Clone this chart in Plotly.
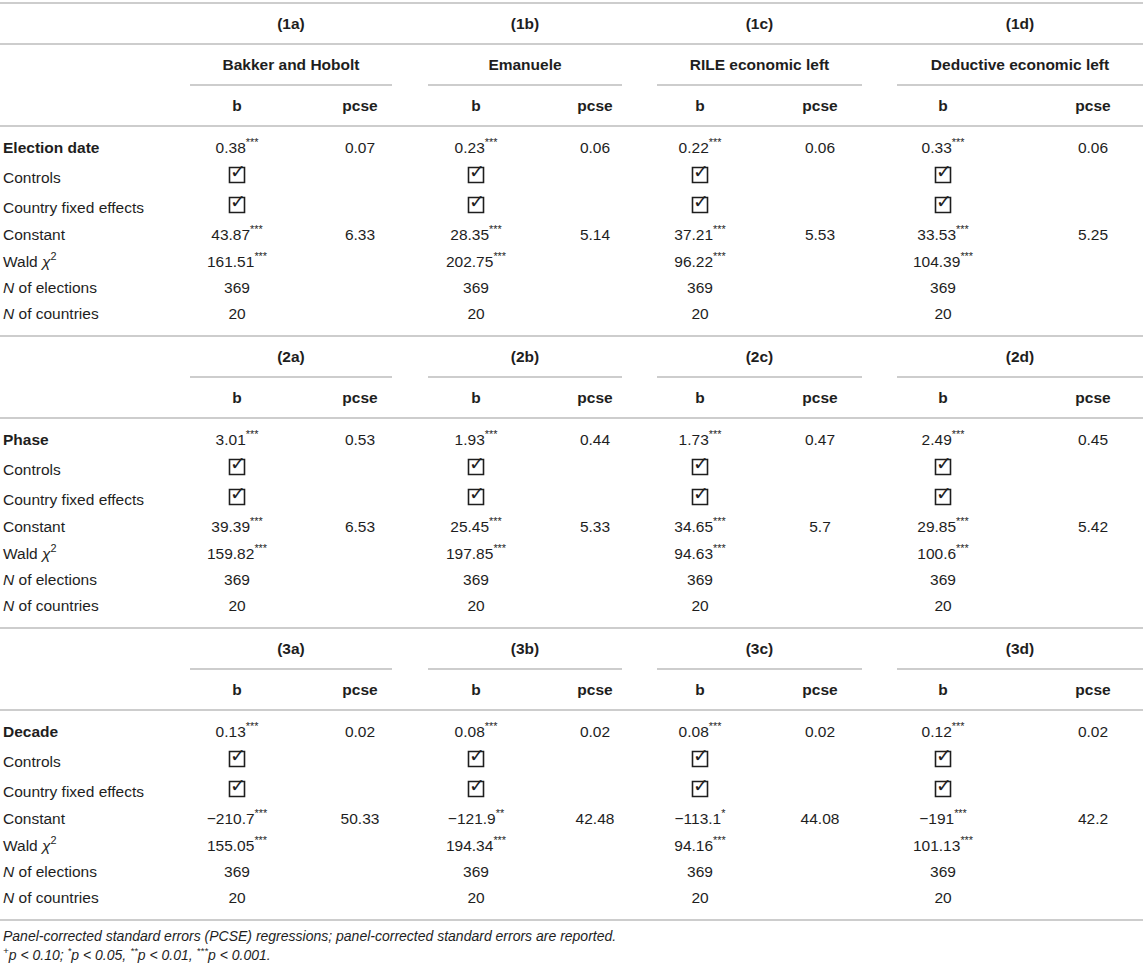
import plotly.graph_objects as go

# ---- table content ----
model_ids = [
    ["(1a)", "(1b)", "(1c)", "(1d)"],
    ["(2a)", "(2b)", "(2c)", "(2d)"],
    ["(3a)", "(3b)", "(3c)", "(3d)"],
]
measures = ["Bakker and Hobolt", "Emanuele", "RILE economic left", "Deductive economic left"]
key_vars = ["Election date", "Phase", "Decade"]
row_labels = [
    "Controls",
    "Country fixed effects",
    "Constant",
    "Wald <i>χ</i><sup>2</sup>",
    "<i>N</i> of elections",
    "<i>N</i> of countries",
]

coef_b = [[0.38, 0.23, 0.22, 0.33], [3.01, 1.93, 1.73, 2.49], [0.13, 0.08, 0.08, 0.12]]
coef_stars = [["***", "***", "***", "***"], ["***", "***", "***", "***"], ["***", "***", "***", "***"]]
coef_pcse = [[0.07, 0.06, 0.06, 0.06], [0.53, 0.44, 0.47, 0.45], [0.02, 0.02, 0.02, 0.02]]
controls = [[True, True, True, True], [True, True, True, True], [True, True, True, True]]
country_fe = [[True, True, True, True], [True, True, True, True], [True, True, True, True]]
const_b = [[43.87, 28.35, 37.21, 33.53], [39.39, 25.45, 34.65, 29.85], [-210.7, -121.9, -113.1, -191]]
const_stars = [["***", "***", "***", "***"], ["***", "***", "***", "***"], ["***", "**", "*", "***"]]
const_pcse = [[6.33, 5.14, 5.53, 5.25], [6.53, 5.33, 5.7, 5.42], [50.33, 42.48, 44.08, 42.2]]
wald = [[161.51, 202.75, 96.22, 104.39], [159.82, 197.85, 94.63, 100.6], [155.05, 194.34, 94.16, 101.13]]
wald_stars = [["***", "***", "***", "***"], ["***", "***", "***", "***"], ["***", "***", "***", "***"]]
n_elections = [[369, 369, 369, 369], [369, 369, 369, 369], [369, 369, 369, 369]]
n_countries = [[20, 20, 20, 20], [20, 20, 20, 20], [20, 20, 20, 20]]

notes = [
    "<i>Panel-corrected standard errors (PCSE) regressions; panel-corrected standard errors are reported.</i>",
    "<i><sup>+</sup>p < 0.10; <sup>*</sup>p < 0.05, <sup>**</sup>p < 0.01, <sup>***</sup>p < 0.001.</i>",
]

# ---- layout ----
W, H = 1143, 967
LABEL_X = 3
B_X = [237, 476, 700, 943]
PCSE_X = [360, 595, 820, 1093]
SPANS = [(190, 392), (428, 622), (657, 862), (897, 1143)]
TOP = 3
HEAD_H = 41
HEAD_PAD = 22
ROW_STEPS = [23, 30, 30, 27, 27, 26, 26]
ROW_END = 21
NOTE_GAP = [17, 19]
BOX_LIFT = 4
TICK_LIFT = 6

FONT = "Liberation Sans, Arial, sans-serif"
INK = "#1e1e1e"
RULE = "#bdbdbd"


def fmt(v):
    return str(v).replace("-", "−")


bold = {"x": [], "y": [], "text": []}
plain = {"x": [], "y": [], "text": []}
labels = {"x": [], "y": [], "text": []}
checks = {"x": [], "y": []}
shapes = []


def rule(y, x0=0, x1=W):
    shapes.append(dict(type="line", xref="x", yref="y", x0=x0, x1=x1, y0=y, y1=y,
                       line=dict(color=RULE, width=1.6)))


def put(store, x, y, t):
    store["x"].append(x)
    store["y"].append(y)
    store["text"].append(t)


y = TOP
rule(y)
for p in range(3):
    # model numbers
    for g in range(4):
        put(bold, sum(SPANS[g]) / 2, y + HEAD_PAD, "<b>%s</b>" % model_ids[p][g])
    y += HEAD_H
    if p == 0:
        rule(y)
        for g in range(4):
            put(bold, sum(SPANS[g]) / 2, y + HEAD_PAD, "<b>%s</b>" % measures[g])
        y += HEAD_H
    for g in range(4):
        rule(y, SPANS[g][0], SPANS[g][1])
    for g in range(4):
        put(bold, B_X[g], y + HEAD_PAD, "<b>b</b>")
        put(bold, PCSE_X[g], y + HEAD_PAD, "<b>pcse</b>")
    y += HEAD_H
    rule(y)

    row_y = []
    acc = y
    for s in ROW_STEPS:
        acc += s
        row_y.append(acc)

    put(labels, LABEL_X, row_y[0], "<b>%s</b>" % key_vars[p])
    for i, lab in enumerate(row_labels):
        put(labels, LABEL_X, row_y[i + 1], lab)

    for g in range(4):
        put(plain, B_X[g], row_y[0], fmt(coef_b[p][g]) + "<sup>%s</sup>" % coef_stars[p][g])
        put(plain, PCSE_X[g], row_y[0], fmt(coef_pcse[p][g]))
        if controls[p][g]:
            checks["x"].append(B_X[g])
            checks["y"].append(row_y[1])
        if country_fe[p][g]:
            checks["x"].append(B_X[g])
            checks["y"].append(row_y[2])
        put(plain, B_X[g], row_y[3], fmt(const_b[p][g]) + "<sup>%s</sup>" % const_stars[p][g])
        put(plain, PCSE_X[g], row_y[3], fmt(const_pcse[p][g]))
        put(plain, B_X[g], row_y[4], fmt(wald[p][g]) + "<sup>%s</sup>" % wald_stars[p][g])
        put(plain, B_X[g], row_y[5], fmt(n_elections[p][g]))
        put(plain, B_X[g], row_y[6], fmt(n_countries[p][g]))

    y = row_y[-1] + ROW_END
    rule(y)

note_y = []
acc = y
for s in NOTE_GAP:
    acc += s
    note_y.append(acc)

fig = go.Figure()
fig.add_trace(go.Scatter(x=bold["x"], y=bold["y"], text=bold["text"], mode="text",
                         textposition="middle center",
                         textfont=dict(family=FONT, size=15.5, color=INK)))
fig.add_trace(go.Scatter(x=plain["x"], y=plain["y"], text=plain["text"], mode="text",
                         textposition="middle center",
                         textfont=dict(family=FONT, size=15.5, color=INK)))
fig.add_trace(go.Scatter(x=labels["x"], y=labels["y"], text=labels["text"], mode="text",
                         textposition="middle right",
                         textfont=dict(family=FONT, size=15.5, color=INK)))
# checked boxes: open square, then a tick that pokes out of the top
fig.add_trace(go.Scatter(x=checks["x"], y=[v - BOX_LIFT for v in checks["y"]], mode="markers",
                         marker=dict(symbol="square-open", size=15, color=INK,
                                     line=dict(width=1.6, color=INK))))
fig.add_trace(go.Scatter(x=[v + 1 for v in checks["x"]], y=[v - TICK_LIFT for v in checks["y"]],
                         mode="text", text=["✓"] * len(checks["x"]),
                         textposition="middle center",
                         textfont=dict(family="DejaVu Sans", size=19, color=INK)))
fig.add_trace(go.Scatter(x=[LABEL_X] * len(notes), y=note_y, text=notes, mode="text",
                         textposition="middle right",
                         textfont=dict(family=FONT, size=14, color=INK)))

fig.update_layout(
    width=W,
    height=H,
    margin=dict(l=0, r=0, t=0, b=0),
    paper_bgcolor="white",
    plot_bgcolor="white",
    showlegend=False,
    hovermode=False,
    shapes=shapes,
    xaxis=dict(range=[0, W], visible=False, fixedrange=True),
    yaxis=dict(range=[H, 0], visible=False, fixedrange=True),
)

fig.write_html("out.html", config={"displayModeBar": False},
               post_script="document.body.style.margin='0';")
